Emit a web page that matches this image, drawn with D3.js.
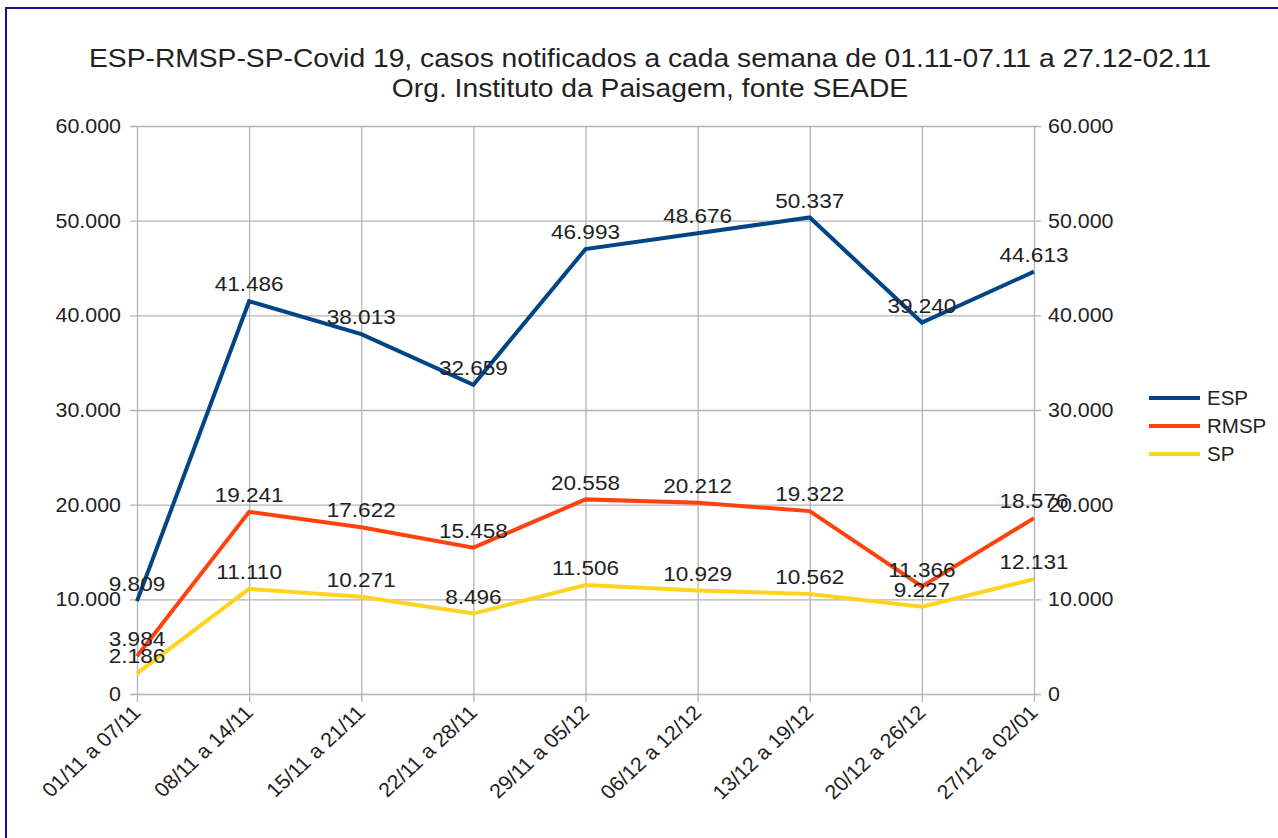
<!DOCTYPE html>
<html>
<head>
<meta charset="utf-8">
<script src="https://cdn.jsdelivr.net/npm/d3@7"></script>
<style>
  html, body { margin: 0; padding: 0; background: #fff; }
  svg { display: block; }
  text { font-family: "Liberation Sans", Arial, sans-serif; fill: #222; }
</style>
</head>
<body>
<svg id="chart" width="1278" height="838"></svg>
<script>
// Weekly notified Covid-19 cases: state (ESP), metro region (RMSP) and city (SP)
const categories = ["01/11 a 07/11", "08/11 a 14/11", "15/11 a 21/11", "22/11 a 28/11",
  "29/11 a 05/12", "06/12 a 12/12", "13/12 a 19/12", "20/12 a 26/12", "27/12 a 02/01"];
const esp  = [9809, 41486, 38013, 32659, 46993, 48676, 50337, 39240, 44613];
const rmsp = [3984, 19241, 17622, 15458, 20558, 20212, 19322, 11366, 18576];
const sp   = [2186, 11110, 10271, 8496, 11506, 10929, 10562, 9227, 12131];
const seriesNames = ["ESP", "RMSP", "SP"];
const seriesColors = ["#004586", "#ff420e", "#ffd320"];
const yTicks = [0, 10000, 20000, 30000, 40000, 50000, 60000];
const titleLines = [
  "ESP-RMSP-SP-Covid 19, casos notificados a cada semana de 01.11-07.11 a 27.12-02.11",
  "Org. Instituto da Paisagem, fonte SEADE"
];

const series = [esp, rmsp, sp].map((values, i) => ({ name: seriesNames[i], color: seriesColors[i], values }));

const ptBR = d3.formatLocale({ decimal: ",", thousands: ".", grouping: [3], currency: ["R$", ""] });
const fmt = ptBR.format(",d");

const svg = d3.select("#chart");
const plotLeft = 137, plotRight = 1034, plotTop = 126, plotBottom = 694;
const textStretch = 1.07;   // the chart's fonts are set slightly wide

const x = d3.scalePoint().domain(categories).range([plotLeft, plotRight]);
const y = d3.scaleLinear().domain([0, 60000]).range([plotBottom, plotTop]);

// page frame
svg.append("rect").attr("x", 6).attr("y", 8).attr("width", 1400).attr("height", 1000)
  .attr("fill", "none").attr("stroke", "#14148c").attr("stroke-width", 2);

// title, two centred lines
svg.append("g").selectAll("text").data(titleLines).join("text")
  .attr("transform", (d, i) => `translate(650,${67 + i * 30}) scale(1.13,1)`)
  .attr("text-anchor", "middle").attr("font-size", 25)
  .text(d => d);

const gridColor = "#b3b3b3";

// horizontal grid with tick stubs on both sides
svg.append("g").selectAll("line").data(yTicks).join("line")
  .attr("x1", plotLeft - 7).attr("x2", plotRight + 7)
  .attr("y1", d => y(d) + 0.5).attr("y2", d => y(d) + 0.5)
  .attr("stroke", gridColor).attr("stroke-width", 1.3);

// vertical grid with tick stubs below the base line
svg.append("g").selectAll("line").data(categories).join("line")
  .attr("x1", d => x(d) + 0.5).attr("x2", d => x(d) + 0.5)
  .attr("y1", plotTop).attr("y2", plotBottom + 8)
  .attr("stroke", gridColor).attr("stroke-width", 1.3);

// left and right value axes
const yAxisLeft = d3.axisLeft(y).tickValues(yTicks).tickFormat(fmt).tickSize(0).tickPadding(0);
const yAxisRight = d3.axisRight(y).tickValues(yTicks).tickFormat(fmt).tickSize(0).tickPadding(0);
const gl = svg.append("g").attr("transform", `translate(${plotLeft - 16},0)`).call(yAxisLeft);
const gr = svg.append("g").attr("transform", `translate(${plotRight + 14},0)`).call(yAxisRight);
[gl, gr].forEach(g => {
  g.select(".domain").remove();
  g.selectAll("text").attr("font-size", 20).attr("fill", "#222")
    .attr("font-family", "Liberation Sans, Arial, sans-serif")
    .attr("transform", `scale(${textStretch},1)`);
});

// category labels, rotated
svg.append("g").selectAll("text").data(categories).join("text")
  .attr("transform", d => `translate(${x(d) + 5},${plotBottom + 20}) scale(1.08,1) rotate(-45)`)
  .attr("text-anchor", "end").attr("font-size", 20)
  .text(d => d);

// series lines
const line = d3.line().x((d, i) => x(categories[i])).y(d => y(d));
svg.append("g").selectAll("path").data(series).join("path")
  .attr("d", s => line(s.values))
  .attr("fill", "none").attr("stroke", s => s.color)
  .attr("stroke-width", 4).attr("stroke-linejoin", "miter");

// value labels above each point
const labels = svg.append("g");
series.forEach(s => {
  labels.append("g").selectAll("text").data(s.values).join("text")
    .attr("transform", (d, i) => `translate(${x(categories[i])},${y(d) - 17}) scale(${textStretch + 0.03},1)`)
    .attr("dy", "0.35em")
    .attr("text-anchor", "middle").attr("font-size", 20.5)
    .text(d => fmt(d));
});

// legend
const legend = svg.append("g").selectAll("g").data(series).join("g")
  .attr("transform", (d, i) => `translate(1149,${398 + i * 28})`);
legend.append("line").attr("x1", 0).attr("x2", 51).attr("y1", 0).attr("y2", 0)
  .attr("stroke", d => d.color).attr("stroke-width", 4);
legend.append("text").attr("x", 58).attr("dy", "0.35em").attr("font-size", 20.5)
  .text(d => d.name);
</script>
</body>
</html>
